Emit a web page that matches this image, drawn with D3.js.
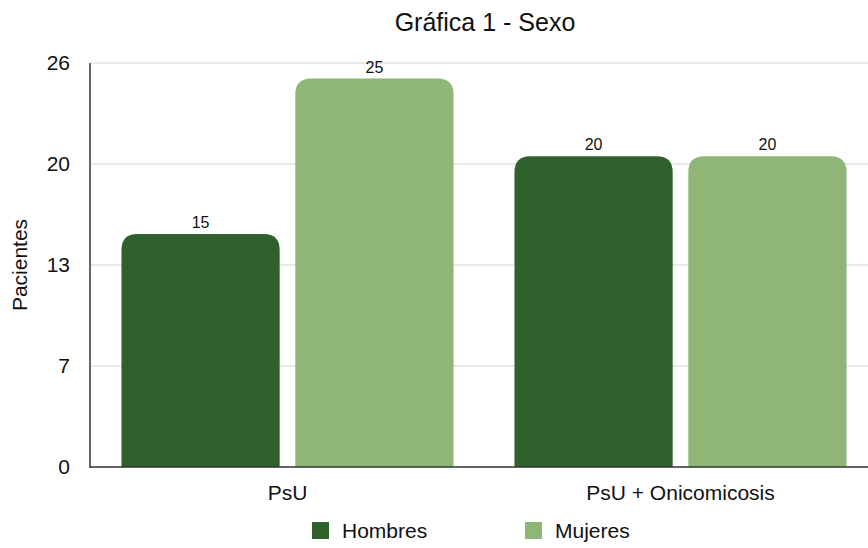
<!DOCTYPE html>
<html>
<head>
<meta charset="utf-8">
<script src="https://cdn.jsdelivr.net/npm/d3@7"></script>
<style>
  body { margin: 0; background: #fff; }
  svg { display: block; font-family: "Liberation Sans", Arial, Helvetica, sans-serif; }
</style>
</head>
<body>
<div id="chart"></div>
<script>
// Data
const categories = ['PsU', 'PsU + Onicomicosis'];
const seriesNames = ['Hombres', 'Mujeres'];
const hombres = [15, 20];
const mujeres = [25, 20];
const yTickValues = [0, 6.5, 13, 19.5, 26];
const yTickLabels = ['0', '7', '13', '20', '26'];

const colors = { Hombres: '#30612d', Mujeres: '#8fb577' };

const width = 868, height = 548;
const margin = { top: 63, right: -9, bottom: 81, left: 91 };
const innerH = height - margin.top - margin.bottom;

const svg = d3.select('#chart').append('svg')
  .attr('width', width)
  .attr('height', height);

const x0 = d3.scaleBand()
  .domain(categories)
  .range([margin.left, width - margin.right])
  .paddingInner(0.155)
  .paddingOuter(0.0775);

const x1 = d3.scaleBand()
  .domain(seriesNames)
  .range([0, x0.bandwidth()])
  .paddingInner(0.09);

const y = d3.scaleLinear()
  .domain([0, 26])
  .range([margin.top + innerH, margin.top]);

// Gridlines
svg.append('g')
  .selectAll('line')
  .data(yTickValues.slice(1))
  .join('line')
  .attr('x1', margin.left)
  .attr('x2', width)
  .attr('y1', d => y(d))
  .attr('y2', d => y(d))
  .attr('stroke', '#d3d3d3')
  .attr('stroke-width', 1);

// Y axis tick labels
svg.append('g')
  .selectAll('text')
  .data(yTickValues)
  .join('text')
  .attr('x', 70)
  .attr('y', d => y(d))
  .attr('dy', '0.35em')
  .attr('text-anchor', 'end')
  .style('font-size', '21px')
  .style('fill', '#111')
  .text((d, i) => yTickLabels[i]);

// Bars
const rows = categories.map((c, i) => ({ cat: c, values: [
  { name: 'Hombres', value: hombres[i] },
  { name: 'Mujeres', value: mujeres[i] }
] }));

function topRoundedRect(x, yTop, w, yBottom, r) {
  return `M${x},${yBottom}V${yTop + r}Q${x},${yTop} ${x + r},${yTop}` +
    `H${x + w - r}Q${x + w},${yTop} ${x + w},${yTop + r}V${yBottom}Z`;
}

const groups = svg.append('g')
  .selectAll('g')
  .data(rows)
  .join('g')
  .attr('transform', d => `translate(${x0(d.cat)},0)`);

groups.selectAll('path')
  .data(d => d.values)
  .join('path')
  .attr('d', d => topRoundedRect(x1(d.name), y(d.value), x1.bandwidth(), y(0), 16))
  .attr('fill', d => colors[d.name]);

groups.selectAll('text')
  .data(d => d.values)
  .join('text')
  .attr('x', d => x1(d.name) + x1.bandwidth() / 2)
  .attr('y', d => y(d.value) - 6)
  .attr('text-anchor', 'middle')
  .style('font-size', '16px')
  .style('fill', '#111')
  .text(d => d.value);

// Axis lines
svg.append('line')
  .attr('x1', margin.left - 1).attr('x2', margin.left - 1)
  .attr('y1', margin.top).attr('y2', y(0) + 1)
  .attr('stroke', '#333').attr('stroke-width', 1.5);
svg.append('line')
  .attr('x1', margin.left - 1).attr('x2', width)
  .attr('y1', y(0)).attr('y2', y(0))
  .attr('stroke', '#333').attr('stroke-width', 1.5);

// Category labels
svg.append('g')
  .selectAll('text')
  .data(categories)
  .join('text')
  .attr('x', d => x0(d) + x0.bandwidth() / 2)
  .attr('y', 500)
  .attr('text-anchor', 'middle')
  .style('font-size', '21px')
  .style('fill', '#111')
  .text(d => d);

// Title
svg.append('text')
  .attr('x', 485)
  .attr('y', 31)
  .attr('text-anchor', 'middle')
  .style('font-size', '25px')
  .style('fill', '#111')
  .text('Gráfica 1 - Sexo');

// Y axis title
svg.append('text')
  .attr('transform', 'translate(27,265) rotate(-90)')
  .attr('text-anchor', 'middle')
  .style('font-size', '21px')
  .style('fill', '#111')
  .text('Pacientes');

// Legend
const legendX = [312, 525];
const legend = svg.append('g')
  .selectAll('g')
  .data(seriesNames)
  .join('g')
  .attr('transform', (d, i) => `translate(${legendX[i]},522)`);

legend.append('rect')
  .attr('width', 17)
  .attr('height', 17)
  .attr('fill', d => colors[d]);

legend.append('text')
  .attr('x', 30)
  .attr('y', 16)
  .style('font-size', '21px')
  .style('fill', '#111')
  .text(d => d);
</script>
</body>
</html>
